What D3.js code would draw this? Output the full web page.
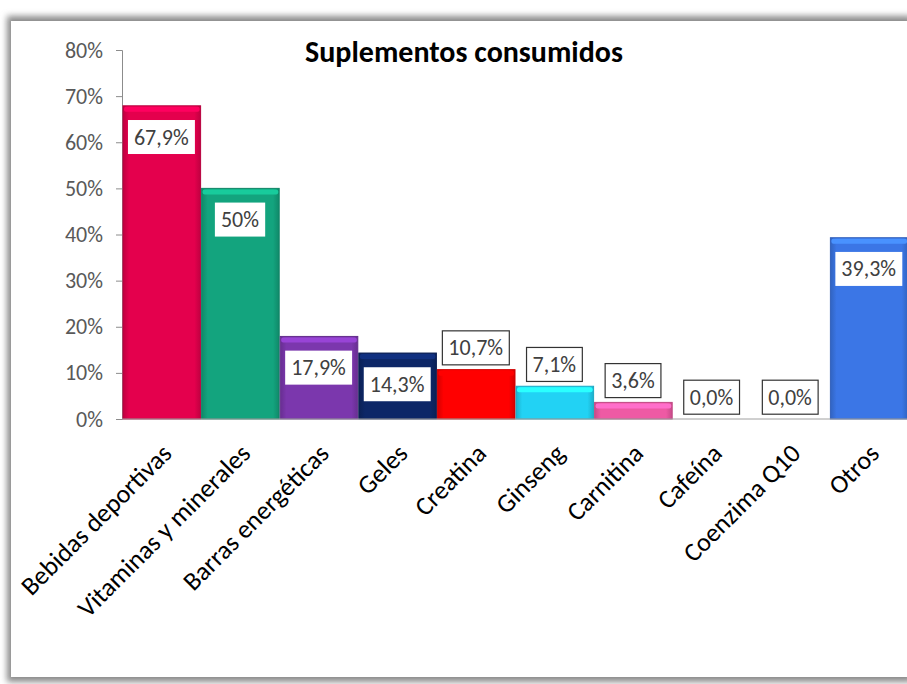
<!DOCTYPE html>
<html>
<head>
<meta charset="utf-8">
<script src="https://cdn.jsdelivr.net/npm/d3@7"></script>
<style>
  body { margin: 0; background: #fff; }
  text { font-family: Carlito, Lato, "Open Sans", sans-serif; }
</style>
</head>
<body>
<div id="chart"></div>
<script>
// data
const categories = ["Bebidas deportivas", "Vitaminas y minerales", "Barras energéticas", "Geles",
  "Creatina", "Ginseng", "Carnitina", "Cafeína", "Coenzima Q10", "Otros"];
const values = [0.679, 0.50, 0.179, 0.143, 0.107, 0.071, 0.036, 0.0, 0.0, 0.393];
const valueLabels = ["67,9%", "50%", "17,9%", "14,3%", "10,7%", "7,1%", "3,6%", "0,0%", "0,0%", "39,3%"];
const barColors = ["#e4004d", "#13a47e", "#7b37ad", "#0d2767", "#ff0000", "#22d2f4", "#ee5aa4", "#888888", "#888888", "#3b76e6"];
const yTicks = [0, 0.1, 0.2, 0.3, 0.4, 0.5, 0.6, 0.7, 0.8];

const width = 907, height = 684;
const margin = { top: 50, left: 122, right: -1, bottom: 265 };

const svg = d3.select("#chart").append("svg")
  .attr("width", width)
  .attr("height", height);

const defs = svg.append("defs");
defs.append("filter").attr("id", "shadow")
  .attr("x", "-5%").attr("y", "-5%").attr("width", "110%").attr("height", "110%")
  .append("feGaussianBlur").attr("stdDeviation", 3);

// frame with soft shadow
svg.append("rect")
  .attr("x", 7).attr("y", 16).attr("width", 905).attr("height", 666)
  .attr("fill", "#8a8a8a").attr("filter", "url(#shadow)");
svg.append("rect")
  .attr("x", 11).attr("y", 21).attr("width", 900).attr("height", 656)
  .attr("fill", "#fff");

const x = d3.scaleBand()
  .domain(categories)
  .range([margin.left, width - margin.right])
  .paddingInner(0).paddingOuter(0);

const y = d3.scaleLinear()
  .domain([0, 0.8])
  .range([height - margin.bottom, margin.top]);

// gradients for the bevelled bars
barColors.forEach((c, i) => {
  const g = defs.append("linearGradient").attr("id", "grad" + i)
    .attr("x1", 0).attr("x2", 1).attr("y1", 0).attr("y2", 0);
  g.append("stop").attr("offset", "0%").attr("stop-color", d3.color(c).darker(0.5));
  g.append("stop").attr("offset", "8%").attr("stop-color", c);
  g.append("stop").attr("offset", "92%").attr("stop-color", c);
  g.append("stop").attr("offset", "100%").attr("stop-color", d3.color(c).darker(0.5));
});

// y axis
const yAxis = d3.axisLeft(y)
  .tickValues(yTicks)
  .tickFormat(d3.format(".0%"))
  .tickSize(6)
  .tickPadding(13);

const yG = svg.append("g")
  .attr("class", "axis y-axis")
  .attr("transform", `translate(${margin.left},0)`)
  .call(yAxis);
yG.select(".domain").attr("stroke", "#8c8c8c");
yG.selectAll(".tick line").attr("stroke", "#8c8c8c");
yG.selectAll(".tick text")
  .attr("fill", "#595959")
  .style("font-size", "22px");

const data = categories.map((c, i) => ({ cat: c, v: values[i], label: valueLabels[i], i }));

// bars
const bars = svg.append("g").selectAll("g.bar")
  .data(data.filter(d => d.v > 0))
  .join("g")
  .attr("class", "bar");

bars.append("rect")
  .attr("x", d => x(d.cat) + 1)
  .attr("width", x.bandwidth() - 1)
  .attr("y", d => y(d.v))
  .attr("height", d => y(0) - y(d.v))
  .attr("fill", d => `url(#grad${d.i})`)
  .attr("stroke", d => d3.color(barColors[d.i]).darker(0.6))
  .attr("stroke-width", 1);

// top bevel
bars.append("rect")
  .attr("x", d => x(d.cat) + 2)
  .attr("width", x.bandwidth() - 3)
  .attr("y", d => y(d.v) + 1)
  .attr("height", 5)
  .attr("rx", 2)
  .attr("fill", d => d3.color(barColors[d.i]).brighter(0.6));

// x baseline
svg.append("line")
  .attr("x1", margin.left).attr("x2", width)
  .attr("y1", y(0)).attr("y2", y(0))
  .attr("stroke", "#a0a0a0");

// value labels: inside the big bars, boxed above the small ones
const labels = svg.append("g").selectAll("g.lab")
  .data(data)
  .join("g")
  .attr("class", "lab");

const inside = d => d.v > 0.12;
const boxH = 34;

labels.append("text")
  .attr("x", d => x(d.cat) + x.bandwidth() / 2)
  .attr("y", d => inside(d) ? y(d.v) + 14 + boxH / 2 : y(d.v) - 5 - boxH / 2)
  .attr("dy", "0.35em")
  .attr("text-anchor", "middle")
  .attr("fill", "#404040")
  .style("font-size", "22px")
  .text(d => d.label);

labels.each(function (d) {
  const g = d3.select(this);
  const bb = g.select("text").node().getBBox();
  const w = bb.width + 12;
  g.insert("rect", "text")
    .attr("x", bb.x + bb.width / 2 - w / 2)
    .attr("y", bb.y + bb.height / 2 - boxH / 2)
    .attr("width", w)
    .attr("height", boxH)
    .attr("fill", "#fff")
    .attr("stroke", inside(d) ? "none" : "#333")
    .attr("stroke-width", 1.2);
});

// category labels, rotated
svg.append("g").selectAll("text.cat")
  .data(categories)
  .join("text")
  .attr("class", "cat")
  .attr("transform", d => `translate(${x(d) + x.bandwidth() / 2 + 12},${y(0) + 36}) rotate(-45)`)
  .attr("text-anchor", "end")
  .attr("fill", "#000")
  .style("font-size", "26px")
  .text(d => d);

// title
svg.append("text")
  .attr("x", 464)
  .attr("y", 62)
  .attr("text-anchor", "middle")
  .attr("fill", "#000")
  .style("font-size", "30px")
  .style("font-weight", "bold")
  .text("Suplementos consumidos");
</script>
</body>
</html>
